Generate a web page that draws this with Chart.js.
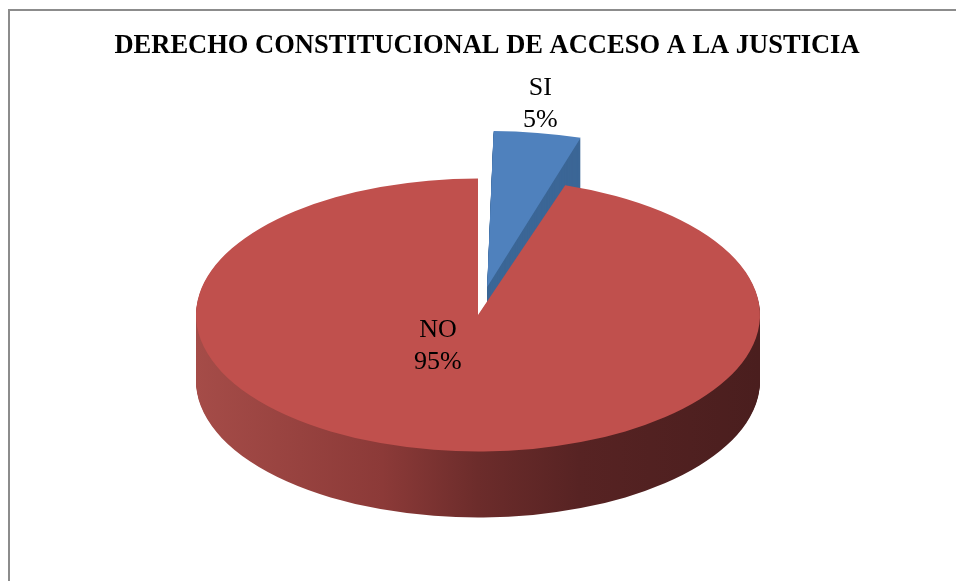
<!DOCTYPE html>
<html>
<head>
<meta charset="utf-8">
<script src="https://cdn.jsdelivr.net/npm/chart.js@4.4.0/dist/chart.umd.min.js"></script>
<style>
  html, body { margin: 0; padding: 0; background: #fff; }
  #wrap { width: 956px; height: 581px; }
</style>
</head>
<body>
<div id="wrap"><canvas id="myChart" width="956" height="581"></canvas></div>
<script>
const chartTitle = 'DERECHO CONSTITUCIONAL DE ACCESO A LA JUSTICIA';
const categories = ['SI', 'NO'];
const values = [5, 95]; // porcentajes
const sliceColors = ['#4F81BD', '#C0504D'];
const sideColors = ['#3B6696', null]; // null -> degradado rojo

// tilted pie on screen (px)
const CX = 478, CY = 315, RX = 282, RY = 136.5, DEPTH = 66;
const labelRadius = [1, 0.5];
const labelNudge = [[9, -48], [-18, -36]];
const LINE = 32;

function pieScale(chart) {
    const arcs = chart.getDatasetMeta(0).data;
    const R = arcs[0].outerRadius;
    return { arcs, sx: RX / R, sy: RY / R, ox: arcs[0].x, oy: arcs[0].y };
}

const frame = {
    id: 'frame',
    beforeDraw(chart) {
        const ctx = chart.ctx;
        ctx.save();
        ctx.strokeStyle = '#8c8c8c';
        ctx.lineWidth = 2;
        ctx.beginPath();
        ctx.moveTo(9, 581);
        ctx.lineTo(9, 10);
        ctx.lineTo(956, 10);
        ctx.stroke();
        ctx.restore();
    }
};

const pie3d = {
    id: 'pie3d',
    beforeDatasetsDraw(chart) {
        const ctx = chart.ctx;
        const { arcs, sx, sy, ox, oy } = pieScale(chart);
        ctx.save();
        const base = ctx.getTransform();
        const place = (dy) => {
            ctx.setTransform(base);
            ctx.translate(CX, CY + dy);
            ctx.scale(sx, sy);
            ctx.translate(-ox, -oy);
        };
        // paredes laterales: primero SI (atras), luego NO (delante)
        arcs.forEach((arc, i) => {
            let fill = sideColors[i];
            if (!fill) {
                const gx = (X) => ox + (X - CX) / sx;
                fill = ctx.createLinearGradient(gx(196), 0, gx(760), 0);
                fill.addColorStop(0, '#A54C48');
                fill.addColorStop(0.33, '#8C3A38');
                fill.addColorStop(0.5, '#6C2C2B');
                fill.addColorStop(0.68, '#572323');
                fill.addColorStop(1, '#4A1E1E');
            }
            const top = arc.options.backgroundColor;
            arc.options.backgroundColor = fill;
            for (let k = DEPTH; k >= 1; k--) {
                place(k);
                arc.draw(ctx);
            }
            arc.options.backgroundColor = top;
        });
        place(0);
    },
    afterDatasetsDraw(chart) {
        chart.ctx.restore();
    }
};

const pieLabels = {
    id: 'pieLabels',
    afterDraw(chart) {
        const ctx = chart.ctx;
        const { arcs, sx, sy } = pieScale(chart);
        const total = values.reduce((a, b) => a + b, 0);
        ctx.save();
        ctx.fillStyle = '#000';
        ctx.font = '26px "Liberation Serif", "Times New Roman", serif';
        ctx.textAlign = 'center';
        ctx.textBaseline = 'middle';
        arcs.forEach((arc, i) => {
            const mid = (arc.startAngle + arc.endAngle) / 2;
            const o = (arc.options.offset || 0) / 4;
            const r = labelRadius[i] * arc.outerRadius + o;
            const x = CX + Math.cos(mid) * r * sx + labelNudge[i][0];
            const y = CY + Math.sin(mid) * r * sy + labelNudge[i][1];
            const lines = [categories[i], Math.round(values[i] / total * 100) + '%'];
            lines.forEach((t, j) => {
                ctx.fillText(t, x, y - LINE / 2 + j * LINE);
            });
        });
        ctx.restore();
    }
};

const ctx = document.getElementById('myChart').getContext('2d');
const myChart = new Chart(ctx, {
    type: 'pie',
    data: {
        labels: categories,
        datasets: [{
            data: values,
            backgroundColor: sliceColors,
            borderWidth: 0,
            offset: [83, 0],
            radius: 100,
            clip: false
        }]
    },
    options: {
        responsive: false,
        animation: false,
        layout: { padding: { left: 18 } },
        plugins: {
            legend: { display: false },
            tooltip: { enabled: false },
            title: {
                display: true,
                text: chartTitle,
                color: '#000',
                font: { family: '"Liberation Serif", "Times New Roman", serif', size: 26.5, weight: 'bold' },
                padding: { top: 30, bottom: 10 }
            }
        }
    },
    plugins: [frame, pie3d, pieLabels]
});
</script>
</body>
</html>
